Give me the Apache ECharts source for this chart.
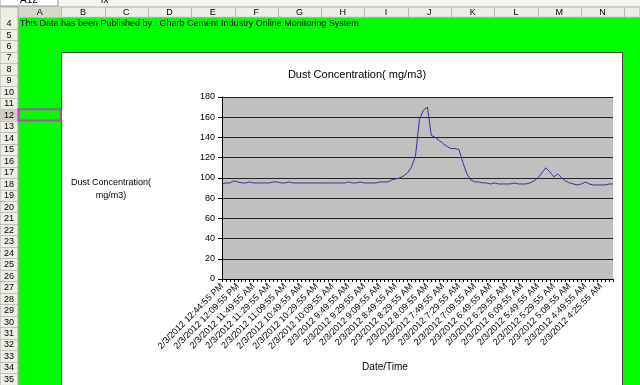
<!DOCTYPE html>
<html><head><meta charset="utf-8">
<script src="https://cdn.jsdelivr.net/npm/echarts@6/dist/echarts.min.js"></script>
<style>html,body{margin:0;padding:0;background:#00ff00;overflow:hidden}#c{width:640px;height:385px}</style>
</head><body><div id="c"></div>
<script>
const chartTitle = 'Dust Concentration( mg/m3)';
const yAxisTitle = 'Dust Concentration(\nmg/m3)';
const xAxisTitle = 'Date/Time';
const bannerText = 'This Data has been Published by : Gharb Cement Industry Online Monitoring System';
const tickLabels = [
  '2/3/2012 12:44:55 PM','2/3/2012 12:09:55 PM','2/3/2012 11:49:55 AM','2/3/2012 11:29:55 AM',
  '2/3/2012 11:09:55 AM','2/3/2012 10:49:55 AM','2/3/2012 10:29:55 AM','2/3/2012 10:09:55 AM',
  '2/3/2012 9:49:55 AM','2/3/2012 9:29:55 AM','2/3/2012 9:09:55 AM','2/3/2012 8:49:55 AM',
  '2/3/2012 8:29:55 AM','2/3/2012 8:09:55 AM','2/3/2012 7:49:55 AM','2/3/2012 7:29:55 AM',
  '2/3/2012 7:09:55 AM','2/3/2012 6:49:55 AM','2/3/2012 6:29:55 AM','2/3/2012 6:09:55 AM',
  '2/3/2012 5:49:55 AM','2/3/2012 5:29:55 AM','2/3/2012 5:09:55 AM','2/3/2012 4:49:55 AM',
  '2/3/2012 4:25:55 AM'
];
const dust = [
  94,95,95,97,96,95,95,96,95,95,
  95,95,95,96,96,95,95,96,95,95,
  95,95,95,95,95,95,95,95,95,95,
  95,95,96,95,95,96,95,95,95,95,
  96,96,96,98,99,100,102,105,111,122,
  158,167,170,142,140,137,134,131,129,129,
  128,115,104,98,96,96,95,95,94,95,
  94,94,94,94,95,94,94,94,95,97,
  100,105,110,106,101,104,100,97,95,94,
  93,94,96,94,93,93,93,93,94,94
];
const columns = ['A','B','C','D','E','F','G','H','I','J','K','L','M','N'];
const rowNumbers = [4,5,6,7,8,9,10,11,12,13,14,15,16,17,18,19,20,21,22,23,24,25,26,27,28,29,30,31,32,33,34,35];
const selectedRow = 12;

const categories = dust.map((_, i) => String(i));
const FONT = 'Liberation Sans';

// Spreadsheet chrome
const g = [];
const colW = 43.3, col0 = 18, hdrTop = 7, hdrBot = 17.3, rowH = 11.48;
g.push({type:'rect', shape:{x:0,y:0,width:640,height:7}, style:{fill:'#f4f4f0'}, z:1});
g.push({type:'rect', shape:{x:0,y:-6,width:58,height:12}, style:{fill:'#fff', stroke:'#999', lineWidth:1}, z:2});
g.push({type:'text', style:{text:'A12', x:20, y:-5, fontSize:10, fontFamily:FONT, fill:'#000'}, z:3});
g.push({type:'text', style:{text:'fx', x:101, y:-5, fontSize:10, fontFamily:FONT, fontStyle:'italic', fill:'#000'}, z:3});
g.push({type:'rect', shape:{x:0,y:hdrTop,width:640,height:hdrBot-hdrTop}, style:{fill:'#eeeee6', stroke:'#b0b0a8', lineWidth:1}, z:1});
g.push({type:'rect', shape:{x:col0,y:hdrTop,width:colW,height:hdrBot-hdrTop}, style:{fill:'#d8d6c8'}, z:2});
for (let k = 0; k <= columns.length; k++) {
  const x = Math.round(col0 + k*colW) + 0.5;
  g.push({type:'line', shape:{x1:x,y1:hdrTop,x2:x,y2:hdrBot}, style:{stroke:'#b8b8b0', lineWidth:1}, z:3});
}
columns.forEach((c, k) => {
  g.push({type:'text', style:{text:c, x:col0 + k*colW + colW/2, y:(hdrTop+hdrBot)/2+0.5, align:'center', verticalAlign:'middle', fontSize:9, fontFamily:FONT, fill:'#000'}, z:4});
});
g.push({type:'rect', shape:{x:0,y:hdrTop,width:col0,height:385}, style:{fill:'#eeeee6', stroke:'#b0b0a8', lineWidth:1}, z:1});
rowNumbers.forEach((r, j) => {
  const top = hdrBot + j*rowH;
  if (r === selectedRow) g.push({type:'rect', shape:{x:0,y:top,width:col0,height:rowH}, style:{fill:'#d0cec0'}, z:2});
  g.push({type:'line', shape:{x1:0,y1:Math.round(top+rowH)+0.5,x2:col0,y2:Math.round(top+rowH)+0.5}, style:{stroke:'#c0c0b8', lineWidth:1}, z:3});
  g.push({type:'text', style:{text:String(r), x:col0/2, y:top+rowH/2+0.5, align:'center', verticalAlign:'middle', fontSize:9, fontFamily:FONT, fill:'#000'}, z:4});
});
// selected cell
const selTop = hdrBot + rowNumbers.indexOf(selectedRow)*rowH;
g.push({type:'rect', shape:{x:col0+0.5,y:selTop,width:colW-1,height:rowH}, style:{fill:'none', stroke:'#c040c0', lineWidth:2}, z:5});
// banner text in row 4
g.push({type:'text', style:{text:bannerText, x:20, y:hdrBot+rowH/2+0.5, verticalAlign:'middle', fontSize:9, fontFamily:FONT, fill:'#000'}, z:4});
// chart area
g.push({type:'rect', shape:{x:61.5,y:52.5,width:561,height:340}, style:{fill:'#ffffff', stroke:'#404040', lineWidth:1}, z:-1});
g.push({type:'text', style:{text:chartTitle, x:357, y:75, align:'center', verticalAlign:'middle', fontSize:11, fontFamily:FONT, fill:'#000'}, z:4});
g.push({type:'text', style:{text:yAxisTitle, x:111, y:189, align:'center', verticalAlign:'middle', fontSize:9, lineHeight:13, fontFamily:FONT, fill:'#000'}, z:4});
g.push({type:'text', style:{text:xAxisTitle, x:385, y:367, align:'center', verticalAlign:'middle', fontSize:10, fontFamily:FONT, fill:'#000'}, z:4});

const chart = echarts.init(document.getElementById('c'), null, {renderer:'canvas'});
chart.setOption({
  animation:false,
  backgroundColor:'#00ff00',
  graphic:{elements:g},
  grid:{left:222, right:27, top:97, bottom:106, show:true, backgroundColor:'#c0c0c0', borderWidth:0, z:0},
  xAxis:{
    type:'category', data:categories, boundaryGap:false,
    axisLine:{show:true, lineStyle:{color:'#000', width:1}},
    axisTick:{show:true, interval:0, length:3, lineStyle:{color:'#000'}},
    axisLabel:{interval:3, rotate:45, margin:6, fontSize:9, fontFamily:FONT, color:'#000',
      formatter:(v, i) => tickLabels[Math.round(i/4)] || ''},
    splitLine:{show:false}
  },
  yAxis:{
    type:'value', min:0, max:180, interval:20,
    axisLine:{show:true, lineStyle:{color:'#000', width:1}},
    axisTick:{show:true, length:4, lineStyle:{color:'#000'}},
    axisLabel:{fontSize:9, fontFamily:FONT, color:'#000', margin:7},
    splitLine:{show:true, lineStyle:{color:'#222', width:1}}
  },
  series:[{type:'line', data:dust, symbol:'none', lineStyle:{color:'#333399', width:1}, z:3}]
});
</script></body></html>
